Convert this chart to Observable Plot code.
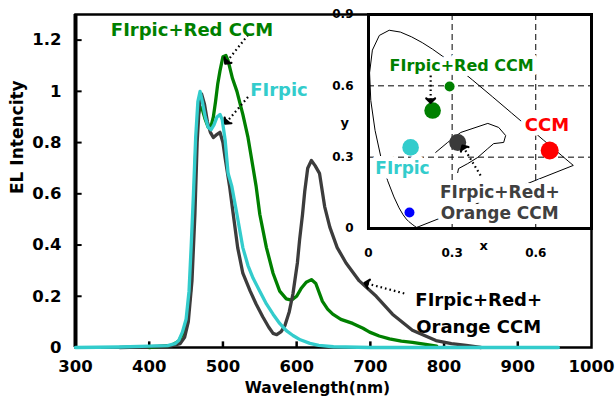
<!DOCTYPE html>
<html><head><meta charset="utf-8">
<script src="https://cdn.jsdelivr.net/npm/d3@7"></script>
<script src="https://cdn.jsdelivr.net/npm/@observablehq/plot@0.6"></script>
<style>
html,body{margin:0;padding:0;background:#fff;}
#chart{position:relative;width:616px;height:399px;overflow:hidden;background:#fff;}
#chart svg{position:absolute;left:0;top:0;}
svg marker path{stroke-dasharray:none !important;fill:#000;}
</style></head><body><div id="chart"></div>
<script>
// ---------- main spectra ----------
const firpicWavelength = [300, 360, 400, 425, 435, 440, 445, 450, 454, 457, 460, 463, 466, 469, 472, 476, 480, 484, 488, 492, 496, 499, 503, 507, 512, 519, 527, 534, 541, 550, 559, 568, 577, 586, 595, 605, 618, 630, 650, 700, 800, 955];
const firpicEL = [0, 0.002, 0.005, 0.007, 0.015, 0.027, 0.06, 0.11, 0.22, 0.4, 0.6, 0.82, 0.96, 1.0, 0.96, 0.9, 0.86, 0.85, 0.87, 0.9, 0.91, 0.89, 0.81, 0.68, 0.63, 0.52, 0.39, 0.32, 0.27, 0.22, 0.17, 0.13, 0.094, 0.066, 0.047, 0.03, 0.016, 0.008, 0.003, 0, 0, 0];

const redWavelength = [400, 430, 440, 447, 452, 456, 460, 463, 466, 469, 472, 476, 480, 484, 487, 490, 493, 496, 500, 504, 507, 513, 519, 527, 534, 541, 545, 550, 559, 568, 577, 586, 593, 600, 606, 613, 620, 626, 635, 642, 649, 660, 676, 690, 699, 712, 726, 742, 757, 775, 790];
const redEL = [0, 0.008, 0.025, 0.06, 0.11, 0.22, 0.5, 0.76, 0.9, 0.94, 0.93, 0.89, 0.86, 0.865, 0.9, 0.96, 1.03, 1.08, 1.135, 1.14, 1.12, 1.05, 1.0, 0.91, 0.82, 0.70, 0.63, 0.52, 0.39, 0.29, 0.22, 0.19, 0.185, 0.2, 0.23, 0.255, 0.265, 0.25, 0.18, 0.15, 0.13, 0.11, 0.094, 0.075, 0.06, 0.045, 0.034, 0.025, 0.02, 0.012, 0.005];

const orangeWavelength = [360, 400, 430, 442, 448, 453, 458, 462, 465, 468, 471, 475, 479, 483, 487, 491, 496, 500, 503, 509, 514, 520, 527, 537, 545, 554, 562, 568, 573, 579, 584, 590, 595, 601, 604, 608, 611, 615, 620, 625, 631, 638, 645, 655, 667, 685, 708, 730, 757, 789, 810, 830, 850];
const orangeEL = [0, 0.003, 0.006, 0.015, 0.04, 0.1, 0.26, 0.52, 0.8, 0.95, 0.99, 0.95, 0.88, 0.84, 0.82, 0.83, 0.84, 0.8, 0.74, 0.63, 0.52, 0.39, 0.29, 0.22, 0.17, 0.12, 0.08, 0.055, 0.05, 0.062, 0.085, 0.14, 0.21, 0.33, 0.42, 0.52, 0.61, 0.7, 0.73, 0.71, 0.68, 0.55, 0.47, 0.39, 0.33, 0.26, 0.2, 0.13, 0.067, 0.027, 0.015, 0.008, 0];

const xTicks = [300, 400, 500, 600, 700, 800, 900, 1000];
const xTickLabels = ["300", "400", "500", "600", "700", "800", "900", "1000"];
const yTicks = [0, 0.2, 0.4, 0.6, 0.8, 1, 1.2];
const yTickLabels = ["0", "0.2", "0.4", "0.6", "0.8", "1", "1.2"];

// main annotations
const mainLabelText = ["FIrpic+Red CCM", "FIrpic", "FIrpic+Red+", "Orange CCM"];
const mainLabelX = [458, 576, 847, 847];
const mainLabelY = [1.24, 1.005, 0.184, 0.078];
const mainLabelColor = ["#008000", "#33cccc", "#000000", "#000000"];
const mainArrowX1 = [534, 534, 746];
const mainArrowY1 = [1.22, 0.978, 0.211];
const mainArrowX2 = [505, 505, 695];
const mainArrowY2 = [1.115, 0.88, 0.25];

// ---------- CIE inset ----------
const cieX = [0.1741, 0.1733, 0.1714, 0.1644, 0.1566, 0.1440, 0.1355, 0.1241, 0.1096, 0.0913, 0.0687, 0.0454, 0.0235, 0.0082, 0.0039, 0.0139, 0.0389, 0.0743, 0.1142, 0.1547, 0.1929, 0.2296, 0.2658, 0.3016, 0.3373, 0.3731, 0.4441, 0.5125, 0.5752, 0.6270, 0.6658, 0.6915, 0.7079, 0.7190, 0.7260, 0.7300, 0.7347, 0.1741];
const cieY = [0.0050, 0.0048, 0.0051, 0.0109, 0.0177, 0.0297, 0.0399, 0.0578, 0.0868, 0.1327, 0.2007, 0.2950, 0.4127, 0.5384, 0.6548, 0.7502, 0.8120, 0.8338, 0.8262, 0.8059, 0.7816, 0.7543, 0.7243, 0.6923, 0.6589, 0.6245, 0.5547, 0.4866, 0.4242, 0.3725, 0.3340, 0.3083, 0.2920, 0.2809, 0.2740, 0.2700, 0.2653, 0.0050];
const blobX = [0.241, 0.284, 0.331, 0.428, 0.467, 0.492, 0.485, 0.449, 0.428, 0.392, 0.356, 0.323, 0.320];
const blobY = [0.320, 0.362, 0.404, 0.442, 0.425, 0.391, 0.362, 0.357, 0.336, 0.299, 0.273, 0.252, 0.235];

const pointName = ["FIrpic", "FIrpic+Red CCM", "Red CCM", "FIrpic+Red+Orange CCM", "CCM", "Blue"];
const pointX = [0.151, 0.230, 0.291, 0.320, 0.650, 0.147];
const pointY = [0.341, 0.496, 0.597, 0.362, 0.328, 0.067];
const pointColor = ["#33cccc", "#008000", "#008000", "#3a3a3a", "#ff0000", "#0000ff"];
const pointR = [8.3, 8.3, 5, 8.5, 9, 5];

const insetLabelText = ["FIrpic+Red CCM", "CCM", "FIrpic", "FIrpic+Red+", "Orange CCM"];
const insetLabelX = [0.334, 0.640, 0.122, 0.471, 0.471];
const insetLabelY = [0.685, 0.433, 0.252, 0.151, 0.063];
const insetLabelColor = ["#008000", "#ff0000", "#33cccc", "#404040", "#404040"];
const insetLabelSize = [16, 18, 17, 17, 17];
const insetArrowX1 = [0.223, 0.402];
const insetArrowY1 = [0.643, 0.223];
const insetArrowX2 = [0.223, 0.341];
const insetArrowY2 = [0.538, 0.341];

const insetXTicks = [0, 0.3, 0.6];
const insetXTickLabels = ["0", "0.3", "0.6"];
const insetYTicks = [0, 0.3, 0.6, 0.9];
const insetYTickLabels = ["0", "0.3", "0.6", "0.9"];

// ---------- build tables ----------
const zip = (xs, ys) => xs.map((x, i) => ({x, y: ys[i]}));
const firpic = zip(firpicWavelength, firpicEL);
const red = zip(redWavelength, redEL);
const orange = zip(orangeWavelength, orangeEL);
const mainLabels = mainLabelText.map((t, i) => ({t, x: mainLabelX[i], y: mainLabelY[i], c: mainLabelColor[i]}));
const mainArrows = mainArrowX1.map((x1, i) => ({x1, y1: mainArrowY1[i], x2: mainArrowX2[i], y2: mainArrowY2[i]}));
const cie = zip(cieX, cieY);
const blob = zip(blobX, blobY);
const points = pointName.map((n, i) => ({n, x: pointX[i], y: pointY[i], c: pointColor[i], r: pointR[i]}));
const insetLabels = insetLabelText.map((t, i) => ({t, x: insetLabelX[i], y: insetLabelY[i], c: insetLabelColor[i], s: insetLabelSize[i]}));
const insetArrows = insetArrowX1.map((x1, i) => ({x1, y1: insetArrowY1[i], x2: insetArrowX2[i], y2: insetArrowY2[i]}));

const FONT = "'DejaVu Sans', sans-serif";

const main = Plot.plot({
  width: 616, height: 399,
  marginLeft: 75, marginRight: 25, marginTop: 14, marginBottom: 52,
  style: {background: "transparent", fontFamily: FONT, fontSize: "16.5px", fontWeight: "bold", color: "#000", overflow: "visible"},
  color: {type: "identity"},
  x: {domain: [300, 1000], ticks: xTicks, tickFormat: d => xTickLabels[xTicks.indexOf(d)], tickSize: 0, tickPadding: 13, label: null},
  y: {domain: [0, 1.3], ticks: yTicks, tickFormat: d => yTickLabels[yTicks.indexOf(d)], tickSize: 0, tickPadding: 14, label: null},
  marks: [
    Plot.frame({stroke: "#000", strokeWidth: 2.5}),
    Plot.ruleX([300], {stroke: "#000", strokeWidth: 4}),
    Plot.ruleY(yTicks.slice(1), {x1: 300, x2: 309, stroke: "#000", strokeWidth: 2}),
    Plot.ruleX(xTicks.slice(1, -1), {y1: 0, y2: 0.022, stroke: "#000", strokeWidth: 2.5}),
    Plot.line(red, {x: "x", y: "y", stroke: "#008000", strokeWidth: 3.3, strokeLinejoin: "round"}),
    Plot.line(orange, {x: "x", y: "y", stroke: "#3c3c3c", strokeWidth: 3.3, strokeLinejoin: "round"}),
    Plot.line(firpic, {x: "x", y: "y", stroke: "#33cccc", strokeWidth: 3.3, strokeLinejoin: "round"}),
    Plot.link(mainArrows, {x1: "x1", y1: "y1", x2: "x2", y2: "y2", stroke: "#000", strokeWidth: 2.2, strokeDasharray: "1.6,3", markerEnd: "arrow"}),
    Plot.text(mainLabels, {x: "x", y: "y", text: "t", fill: "c", fontSize: 18, fontWeight: "bold"}),
    Plot.text(["EL Intencity"], {frameAnchor: "left", dx: -58, dy: 13, rotate: -90, fontSize: 17, fontWeight: "bold", fill: "#000"}),
    Plot.text(["Wavelength(nm)"], {frameAnchor: "bottom", dx: -16, dy: 45, fontSize: 15.5, fontWeight: "bold", fill: "#000"})
  ]
});

const inset = Plot.plot({
  width: 616, height: 399,
  marginLeft: 368, marginRight: 25, marginTop: 14, marginBottom: 171,
  style: {background: "transparent", fontFamily: FONT, fontSize: "12px", fontWeight: "bold", color: "#000", overflow: "visible"},
  color: {type: "identity"},
  r: {type: "identity"},
  x: {domain: [0, 0.8], ticks: insetXTicks, tickFormat: d => insetXTickLabels[insetXTicks.indexOf(d)], tickSize: 0, tickPadding: 20, label: null},
  y: {domain: [0, 0.9], ticks: insetYTicks, tickFormat: d => insetYTickLabels[insetYTicks.indexOf(d)], tickSize: 0, tickPadding: 15, label: null},
  marks: [
    Plot.frame({fill: "#fff", stroke: null}),
    Plot.ruleX(insetXTicks.slice(1), {stroke: "#000", strokeWidth: 1, strokeDasharray: "6,4"}),
    Plot.ruleY(insetYTicks.slice(1, -1), {stroke: "#000", strokeWidth: 1, strokeDasharray: "6,4"}),
    Plot.line(cie, {x: "x", y: "y", stroke: "#000", strokeWidth: 1}),
    Plot.line(blob, {x: "x", y: "y", stroke: "#000", strokeWidth: 1}),
    Plot.dot(points, {x: "x", y: "y", r: "r", fill: "c", stroke: null}),
    Plot.text(insetLabels, {x: "x", y: "y", text: "t", fill: "c", fontSize: "s", fontWeight: "bold", stroke: "#fff", strokeWidth: 10, strokeLinejoin: "round", paintOrder: "stroke"}),
    Plot.link(insetArrows, {x1: "x1", y1: "y1", x2: "x2", y2: "y2", stroke: "#000", strokeWidth: 2.2, strokeDasharray: "1.6,3", markerEnd: "arrow"}),
    Plot.text(["y"], {frameAnchor: "left", y: 0.446, dx: -28, fontSize: 13, fontWeight: "bold", fill: "#000"}),
    Plot.text(["x"], {frameAnchor: "bottom", x: 0.413, dy: 21, fontSize: 13, fontWeight: "bold", fill: "#000"}),
    Plot.frame({stroke: "#000", strokeWidth: 3})
  ]
});

const chart = document.getElementById("chart");
chart.appendChild(main);
chart.appendChild(inset);
</script></body></html>
